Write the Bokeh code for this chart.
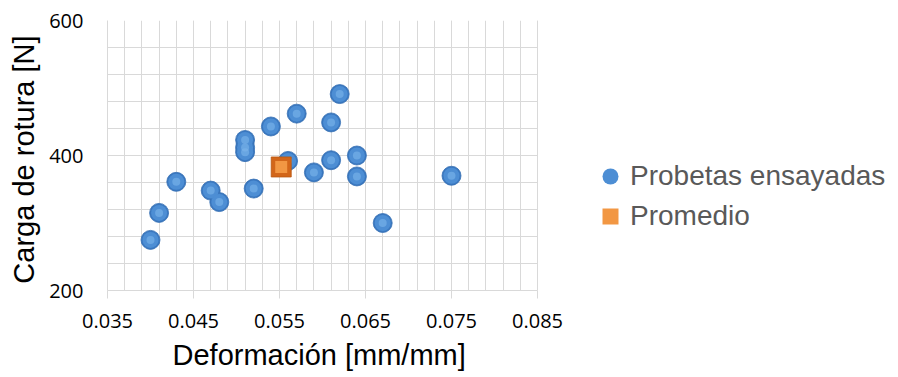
from bokeh.plotting import figure
from bokeh.models import FixedTicker, Legend, LegendItem, NumeralTickFormatter, Title
from bokeh.embed import file_html
from bokeh.resources import INLINE

# ---- data ----
deformacion = [0.040, 0.041, 0.043, 0.047, 0.048, 0.052, 0.051, 0.051, 0.051, 0.054,
               0.057, 0.062, 0.061, 0.056, 0.059, 0.061, 0.064, 0.064, 0.067, 0.075]
carga = [275, 315, 361, 348, 331, 351, 423, 412, 405, 443,
         462, 491, 449, 392, 375, 393, 400, 369, 300, 370]
promedio_deformacion = [0.0552]
promedio_carga = [383]

x_ticks = [0.035, 0.045, 0.055, 0.065, 0.075, 0.085]
x_tick_labels = ["0.035", "0.045", "0.055", "0.065", "0.075", "0.085"]
y_ticks = [200, 400, 600]
y_tick_labels = ["200", "400", "600"]
x_minor_ticks = [0.035, 0.037, 0.039, 0.041, 0.043, 0.045, 0.047, 0.049, 0.051, 0.053,
                 0.055, 0.057, 0.059, 0.061, 0.063, 0.065, 0.067, 0.069, 0.071, 0.073,
                 0.075, 0.077, 0.079, 0.081, 0.083, 0.085]
y_minor_ticks = [200, 240, 280, 320, 360, 400, 440, 480, 520, 560, 600]

series_labels = ["Probetas ensayadas", "Promedio"]
x_title = "Deformación [mm/mm]"
y_title = "Carga  de rotura [N]"

GRID = "#D9D9D9"
TICK_FONT = "Open Sans"
TITLE_FONT = "Liberation Sans"

# layout (pixels): plot area 430 px wide, legend drawn in the free space to its right
W, H = 898, 377
LEFT, TOP, BOTTOM = 107, 20, 87
AREA_W = 430
x_lo, x_hi = x_ticks[0], x_ticks[-1]
x_view_end = x_lo + (x_hi - x_lo) * (W - LEFT) / AREA_W

p = figure(width=W, height=H, x_range=(x_lo, x_view_end), y_range=(y_ticks[0], y_ticks[-1]),
           output_backend="svg", toolbar_location=None,
           min_border_left=LEFT, min_border_right=0, min_border_top=TOP, min_border_bottom=BOTTOM)
p.outline_line_color = None
p.background_fill_color = "white"

# axes
p.xaxis.ticker = FixedTicker(ticks=x_ticks, minor_ticks=x_minor_ticks)
p.yaxis.ticker = FixedTicker(ticks=y_ticks, minor_ticks=y_minor_ticks)
p.xaxis.formatter = NumeralTickFormatter(format="0.000")
p.xaxis.major_label_overrides = {t: l for t, l in zip(x_ticks, x_tick_labels)}
p.yaxis.major_label_overrides = {t: l for t, l in zip(y_ticks, y_tick_labels)}
p.xaxis.bounds = (x_lo, x_hi)

for ax in (p.xaxis, p.yaxis):
    ax.axis_line_color = GRID
    ax.major_tick_line_color = GRID
    ax.minor_tick_in = 0
    ax.minor_tick_out = 0
    ax.major_tick_in = 0
    ax.major_label_text_font = TICK_FONT
    ax.major_label_text_font_size = "20px"
    ax.major_label_text_color = "#000000"

p.xaxis.major_tick_out = 8
p.xaxis.major_label_standoff = 15

p.yaxis.major_tick_out = 0
p.yaxis.major_label_standoff = 24
p.yaxis.axis_label = y_title
p.yaxis.axis_label_text_font = TITLE_FONT
p.yaxis.axis_label_text_font_size = "29px"
p.yaxis.axis_label_text_font_style = "normal"
p.yaxis.axis_label_text_color = "#000000"
p.yaxis.axis_label_standoff = 6

p.add_layout(Title(text=x_title, align="left", offset=65, standoff=13,
                   text_font=TITLE_FONT, text_font_size="29px",
                   text_font_style="normal", text_color="#000000"), "below")

# grid (limited to the plot area)
for g in (p.xgrid, p.ygrid):
    g.grid_line_color = GRID
    g.grid_line_width = 1
    g.minor_grid_line_color = GRID
    g.minor_grid_line_width = 1

if "cross_bounds" in p.ygrid[0].properties():
    p.ygrid.cross_bounds = (x_lo, x_hi)
else:
    p.ygrid.visible = False
    p.segment(x0=[x_lo] * len(y_minor_ticks), y0=y_minor_ticks,
              x1=[x_hi] * len(y_minor_ticks), y1=y_minor_ticks,
              line_color=GRID, line_width=1)

# series: shaded balls
r_ball = p.scatter(deformacion, carga, marker="circle", size=19,
                   fill_color="#3A78C0", line_color="#3670B4", line_width=0.8)
r_ball2 = p.scatter(deformacion, carga, marker="circle", size=16,
                    fill_color="#4D8ED4", line_color=None)
r_ball3 = p.scatter(deformacion, carga, marker="circle", size=8,
                    fill_color="#7DB5EB", line_color=None, fill_alpha=0.6)

r_sq = p.scatter(promedio_deformacion, promedio_carga, marker="square", size=20,
                 fill_color="#D2661A", line_color="#B85510", line_width=0.8)
r_sq2 = p.scatter(promedio_deformacion, promedio_carga, marker="square", size=12,
                  fill_color="#F29743", line_color=None)

legend = Legend(items=[LegendItem(label=series_labels[0], renderers=[r_ball2]),
                       LegendItem(label=series_labels[1], renderers=[r_sq2])],
                location=(483, 54), orientation="vertical",
                padding=0, margin=0, spacing=0,
                glyph_width=40, glyph_height=40, label_standoff=0,
                label_text_font=TITLE_FONT, label_text_font_size="28px",
                label_text_color="#595959",
                border_line_color=None, background_fill_alpha=0)
p.add_layout(legend, "center")

open("out.html", "w").write(file_html(p, INLINE))
